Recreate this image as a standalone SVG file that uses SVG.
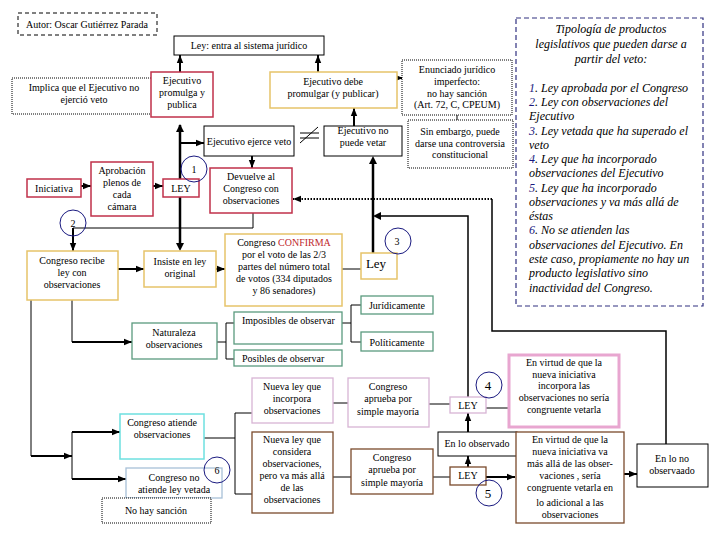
<svg xmlns="http://www.w3.org/2000/svg" width="720" height="540" viewBox="0 0 720 540">
<style>
text{font-family:"Liberation Serif","Times New Roman",serif;font-size:10px;fill:#000}
.c{text-anchor:middle}
.box{fill:#fff;stroke:#000;stroke-width:1}
.red{fill:#fff;stroke:#c0304a;stroke-width:1.5}
.gold{fill:#fff;stroke:#e6c36a;stroke-width:1.5}
.green{fill:#fff;stroke:#5a9a7e;stroke-width:1.3}
.cyan{fill:#fff;stroke:#6ee0e0;stroke-width:1.5}
.steel{fill:#fff;stroke:#a8c0d8;stroke-width:1.3}
.pale{fill:#fff;stroke:#d8b4d4;stroke-width:1.3}
.pink{fill:#fff;stroke:#e8a6d0;stroke-width:3}
.brown{fill:#fff;stroke:#7a4a2c;stroke-width:1.3}
.dot{fill:#fff;stroke:#000;stroke-width:1;stroke-dasharray:1,1}
.dash{fill:#fff;stroke:#000;stroke-width:1;stroke-dasharray:4,3}
.typ{fill:#fff;stroke:#303080;stroke-width:1.2;stroke-dasharray:5,3}
.num{fill:none;stroke:#1a1a80;stroke-width:1}
.thin{fill:none;stroke:#000;stroke-width:1}
.mid{fill:none;stroke:#000;stroke-width:1.5}
.thick{fill:none;stroke:#000;stroke-width:2.5}
.arr{fill:none;stroke:#000;stroke-width:2;marker-end:url(#ah)}
.dotarr{fill:none;stroke:#000;stroke-width:2;stroke-dasharray:1.5,1.5;marker-end:url(#ah)}
.it{font-style:italic;font-size:12px}
.n{fill:#1a1a80}
</style>
<defs>
<marker id="ah" viewBox="0 0 10 10" refX="10" refY="5" markerWidth="8" markerHeight="8" markerUnits="userSpaceOnUse" orient="auto"><path d="M0,1 L10,5 L0,9 z" fill="#000"/></marker>
</defs>

<g id="connectors">
<!-- main vertical -->
<line class="thick" x1="180" y1="179" x2="180" y2="125"/>
<path d="M180,124 l-4,8 h8 z" fill="#000"/>
<line class="thick" x1="180" y1="197" x2="180" y2="243"/>
<path d="M180,251 l-4,-8 h8 z" fill="#000"/>
<line class="arr" x1="180" y1="72" x2="180" y2="55"/>
<line class="arr" x1="318" y1="72" x2="318" y2="55"/>
<line class="arr" x1="180" y1="143" x2="204" y2="143"/>
<line class="arr" x1="252" y1="156" x2="252" y2="168"/>
<line class="arr" x1="354" y1="126" x2="354" y2="108"/>
<line class="arr" x1="397" y1="78" x2="403" y2="78"/>
<line class="thin" x1="457" y1="115" x2="457" y2="120"/>
<!-- not equal -->
<line class="thin" x1="300" y1="133" x2="319" y2="133"/>
<line class="thin" x1="300" y1="138" x2="319" y2="138"/>
<line class="thin" x1="300" y1="143" x2="318" y2="127"/>
<!-- Ley(3) up to no puede vetar -->
<line class="thick" x1="373" y1="253" x2="373" y2="164"/>
<path d="M373,156 l-4,8 h8 z" fill="#000"/>
<path class="mid" d="M468,397 V216 H381"/>
<path d="M373,216 l8,-4 v8 z" fill="#000"/>
<!-- dotted return path -->
<path class="mid" d="M666,444 V331 H492 V199"/>
<line class="dotarr" x1="492" y1="199" x2="293" y2="199"/>
<!-- Devuelve to Congreso recibe -->
<path class="thin" d="M253,213 V228 H73"/>
<line class="arr" x1="73" y1="228" x2="73" y2="251"/>
<line class="arr" x1="81" y1="186" x2="91" y2="186"/>
<line class="arr" x1="153" y1="186" x2="163" y2="186"/>
<line class="arr" x1="118" y1="269" x2="144" y2="269"/>
<line class="arr" x1="216" y1="269" x2="225" y2="269"/>
<line class="thin" x1="342" y1="269" x2="361" y2="269"/>
<!-- to Naturaleza -->
<line class="thin" x1="72" y1="300" x2="72" y2="342"/>
<line class="arr" x1="72" y1="342" x2="132" y2="342"/>
<!-- left trunk -->
<line class="thin" x1="31" y1="300" x2="31" y2="456"/>
<line class="arr" x1="31" y1="456" x2="72" y2="456"/>
<line class="thin" x1="72" y1="432" x2="72" y2="479"/>
<line class="arr" x1="72" y1="432" x2="120" y2="432"/>
<line class="arr" x1="72" y1="479" x2="126" y2="479"/>
<!-- Naturaleza bracket -->
<path class="thin" d="M217,342 H226 M234,323 H226 V359 H234"/>
<!-- Imposibles bracket -->
<path class="thin" d="M342,323 H351 M361,305 H351 V342 H361"/>
<!-- Congreso atiende bracket -->
<path class="thin" d="M204,438 H235 M252,413 H235 V494 H252"/>
<line class="thin" x1="333" y1="403" x2="348" y2="403"/>
<line class="thin" x1="429" y1="404" x2="450" y2="404"/>
<line class="thin" x1="486" y1="408" x2="509" y2="408"/>
<line class="thin" x1="333" y1="477" x2="351" y2="477"/>
<line class="thin" x1="433" y1="477" x2="450" y2="477"/>
<line class="arr" x1="468" y1="467" x2="468" y2="456"/>
<line class="arr" x1="468" y1="432" x2="468" y2="413"/>
<line class="arr" x1="486" y1="477" x2="515" y2="477"/>
<line class="arr" x1="624" y1="474" x2="637" y2="474"/>
</g>

<g id="autor"><rect class="dash" x="18" y="13" width="139" height="22"/><text x="26" y="28">Autor: Oscar Gutiérrez Parada</text></g>
<g id="ley-sistema"><rect class="box" x="174" y="36" width="150" height="19"/><text class="c" x="249" y="49">Ley: entra al sistema jurídico</text></g>
<g id="implica"><rect class="dot" x="12" y="78" width="145" height="36"/><text class="c" x="84" y="91">Implica que el Ejecutivo no</text><text class="c" x="84" y="103">ejerció veto</text></g>
<g id="promulga"><rect class="red" x="151" y="72" width="62" height="45"/><text class="c" x="182" y="84">Ejecutivo</text><text class="c" x="182" y="96">promulga y</text><text class="c" x="182" y="108">publica</text></g>
<g id="debe-promulgar"><rect class="gold" x="270" y="72" width="127" height="36"/><text class="c" x="333" y="85">Ejecutivo debe</text><text class="c" x="333" y="97">promulgar (y publicar)</text></g>
<g id="enunciado"><rect class="dot" x="402" y="60" width="110" height="55"/><text class="c" x="457" y="73">Enunciado jurídico</text><text class="c" x="457" y="85">imperfecto:</text><text class="c" x="457" y="97">no hay sanción</text><text class="c" x="457" y="108">(Art. 72, C, CPEUM)</text></g>
<g id="sin-embargo"><rect class="dot" x="408" y="120" width="105" height="48"/><text class="c" x="460" y="135">Sin embargo, puede</text><text class="c" x="460" y="147">darse una controversia</text><text class="c" x="460" y="158">constitucional</text></g>
<g id="ejerce-veto"><rect class="box" x="204" y="126" width="90" height="30"/><text class="c" x="249" y="145">Ejecutivo ejerce veto</text></g>
<g id="no-puede-vetar"><rect class="box" x="324" y="126" width="78" height="30"/><text class="c" x="363" y="134">Ejecutivo no</text><text class="c" x="363" y="146">puede vetar</text></g>
<g id="iniciativa"><rect class="red" x="27" y="179" width="54" height="18"/><text class="c" x="54" y="192">Iniciativa</text></g>
<g id="aprobacion"><rect class="red" x="91" y="162" width="62" height="54"/><text class="c" x="122" y="174">Aprobación</text><text class="c" x="122" y="186">plenos de</text><text class="c" x="122" y="198">cada</text><text class="c" x="122" y="210">cámara</text></g>
<g id="ley1"><rect class="red" x="163" y="179" width="36" height="18"/><text class="c" x="181" y="192">LEY</text></g>
<g id="devuelve"><rect class="red" x="210" y="168" width="82" height="45"/><text class="c" x="251" y="180">Devuelve al</text><text class="c" x="251" y="192">Congreso con</text><text class="c" x="251" y="204">observaciones</text></g>
<g id="congreso-recibe"><rect class="gold" x="27" y="251" width="91" height="49"/><text class="c" x="72" y="264">Congreso recibe</text><text class="c" x="72" y="276">ley con</text><text class="c" x="72" y="288">observaciones</text></g>
<g id="insiste"><rect class="gold" x="144" y="251" width="72" height="36"/><text class="c" x="180" y="265">Insiste en ley</text><text class="c" x="180" y="277">original</text></g>
<g id="confirma"><rect class="gold" x="225" y="234" width="117" height="72"/><text class="c" x="284" y="246">Congreso <tspan fill="#c0282d">CONFIRMA</tspan></text><text class="c" x="284" y="258">por el voto de las 2/3</text><text class="c" x="284" y="270">partes del número total</text><text class="c" x="284" y="282">de votos (334 diputados</text><text class="c" x="284" y="294">y 86 senadores)</text></g>
<g id="ley3"><rect class="gold" x="361" y="253" width="36" height="26"/><text class="c" x="376" y="268" style="font-size:13px">Ley</text></g>
<g id="naturaleza"><rect class="green" x="132" y="323" width="85" height="36"/><text class="c" x="174" y="336">Naturaleza</text><text class="c" x="174" y="348">observaciones</text></g>
<g id="imposibles"><rect class="green" x="234" y="312" width="108" height="32"/><text x="242" y="324">Imposibles de observar</text></g>
<g id="posibles"><rect class="green" x="234" y="350" width="108" height="16"/><text x="242" y="362">Posibles de observar</text></g>
<g id="juridicamente"><rect class="green" x="361" y="296" width="72" height="18"/><text class="c" x="397" y="309">Jurídicamente</text></g>
<g id="politicamente"><rect class="green" x="361" y="332" width="72" height="19"/><text class="c" x="397" y="346">Políticamente</text></g>
<g id="tipologia"><rect class="typ" x="516" y="18" width="187" height="288"/>
<text class="c it" x="611" y="33">Tipología de productos</text>
<text class="c it" x="611" y="48">legislativos que pueden darse a</text>
<text class="c it" x="611" y="63">partir del veto:</text>
<text class="it" x="529" y="92"><tspan class="n">1</tspan>. Ley aprobada por el Congreso</text>
<text class="it" x="529" y="106"><tspan class="n">2</tspan>. Ley con observaciones del</text>
<text class="it" x="529" y="120">Ejecutivo</text>
<text class="it" x="529" y="135"><tspan class="n">3</tspan>. Ley vetada que ha superado el</text>
<text class="it" x="529" y="149">veto</text>
<text class="it" x="529" y="163"><tspan class="n">4</tspan>. Ley que ha incorporado</text>
<text class="it" x="529" y="177">observaciones del Ejecutivo</text>
<text class="it" x="529" y="192"><tspan class="n">5</tspan>. Ley que ha incorporado</text>
<text class="it" x="529" y="206">observaciones y va más allá de</text>
<text class="it" x="529" y="220">éstas</text>
<text class="it" x="529" y="234"><tspan class="n">6</tspan>. No se atienden las</text>
<text class="it" x="529" y="249">observaciones del Ejecutivo. En</text>
<text class="it" x="529" y="263">este caso, propiamente no hay un</text>
<text class="it" x="529" y="277">producto legislativo sino</text>
<text class="it" x="529" y="292">inactividad del Congreso.</text>
</g>
<g id="congreso-atiende"><rect class="cyan" x="120" y="414" width="84" height="45"/><text class="c" x="162" y="426">Congreso atiende</text><text class="c" x="162" y="438">observaciones</text></g>
<g id="congreso-no-atiende"><rect class="steel" x="126" y="468" width="96" height="30"/><text class="c" x="174" y="481">Congreso no</text><text class="c" x="174" y="493">atiende ley vetada</text></g>
<g id="no-hay-sancion"><rect class="dot" x="102" y="498" width="109" height="25"/><text class="c" x="156" y="514">No hay sanción</text></g>
<g id="nueva-ley-incorpora"><rect class="pale" x="252" y="378" width="81" height="45"/><text class="c" x="292" y="390">Nueva ley que</text><text class="c" x="292" y="402">incorpora</text><text class="c" x="292" y="414">observaciones</text></g>
<g id="aprueba1"><rect class="pale" x="348" y="378" width="81" height="49"/><text class="c" x="388" y="390">Congreso</text><text class="c" x="388" y="402">aprueba por</text><text class="c" x="388" y="415">simple mayoría</text></g>
<g id="ley4"><rect class="pale" x="450" y="397" width="36" height="16"/><text class="c" x="468" y="409">LEY</text></g>
<g id="virtud4"><rect class="pink" x="509" y="355" width="110" height="72"/><text class="c" x="564" y="366">En virtud de que la</text><text class="c" x="564" y="378">nueva iniciativa</text><text class="c" x="564" y="389">incorpora las</text><text class="c" x="564" y="401">observaciones no sería</text><text class="c" x="564" y="413">congruente vetarla</text></g>
<g id="nueva-ley-considera"><rect class="brown" x="252" y="432" width="81" height="81"/><text class="c" x="292" y="443">Nueva ley que</text><text class="c" x="292" y="455">considera</text><text class="c" x="292" y="467">observaciones,</text><text class="c" x="292" y="479">pero va más allá</text><text class="c" x="292" y="491">de las</text><text class="c" x="292" y="503">observaciones</text></g>
<g id="aprueba2"><rect class="brown" x="351" y="449" width="82" height="45"/><text class="c" x="392" y="461">Congreso</text><text class="c" x="392" y="473">aprueba por</text><text class="c" x="392" y="486">simple mayoría</text></g>
<g id="ley5"><rect class="brown" x="450" y="467" width="36" height="18"/><text class="c" x="468" y="479">LEY</text></g>
<g id="en-lo-observado"><rect class="box" x="438" y="432" width="79" height="24"/><text class="c" x="477" y="447">En lo observado</text></g>
<g id="virtud5"><rect class="brown" x="516" y="432" width="108" height="91"/><text class="c" x="570" y="443">En virtud de que la</text><text class="c" x="570" y="455">nueva iniciativa va</text><text class="c" x="570" y="467">más allá de las obser-</text><text class="c" x="570" y="479">vaciones , sería</text><text class="c" x="570" y="491">congruente vetarla en</text><text class="c" x="570" y="506">lo adicional a las</text><text class="c" x="570" y="518">observaciones</text></g>
<g id="en-lo-no-observado"><rect class="box" x="637" y="444" width="71" height="43"/><text class="c" x="672" y="462">En lo no</text><text class="c" x="672" y="474">observaado</text></g>

<g id="num1"><circle class="num" cx="194" cy="169" r="13"/><text class="c" x="194" y="173">1</text></g>
<g id="num2"><circle class="num" cx="73" cy="223" r="13"/><text class="c" x="73" y="227">2</text></g>
<g id="num3"><circle class="num" cx="398" cy="241" r="13"/><text class="c" x="397" y="245">3</text></g>
<g id="num4"><circle class="num" cx="489" cy="385" r="13"/><text class="c" x="488" y="390" style="font-size:13px">4</text></g>
<g id="num5"><circle class="num" cx="489" cy="493" r="13"/><text class="c" x="488" y="498" style="font-size:13px">5</text></g>
<g id="num6"><circle class="num" cx="217" cy="470" r="13"/><text class="c" x="217" y="474">6</text></g>
</svg>
